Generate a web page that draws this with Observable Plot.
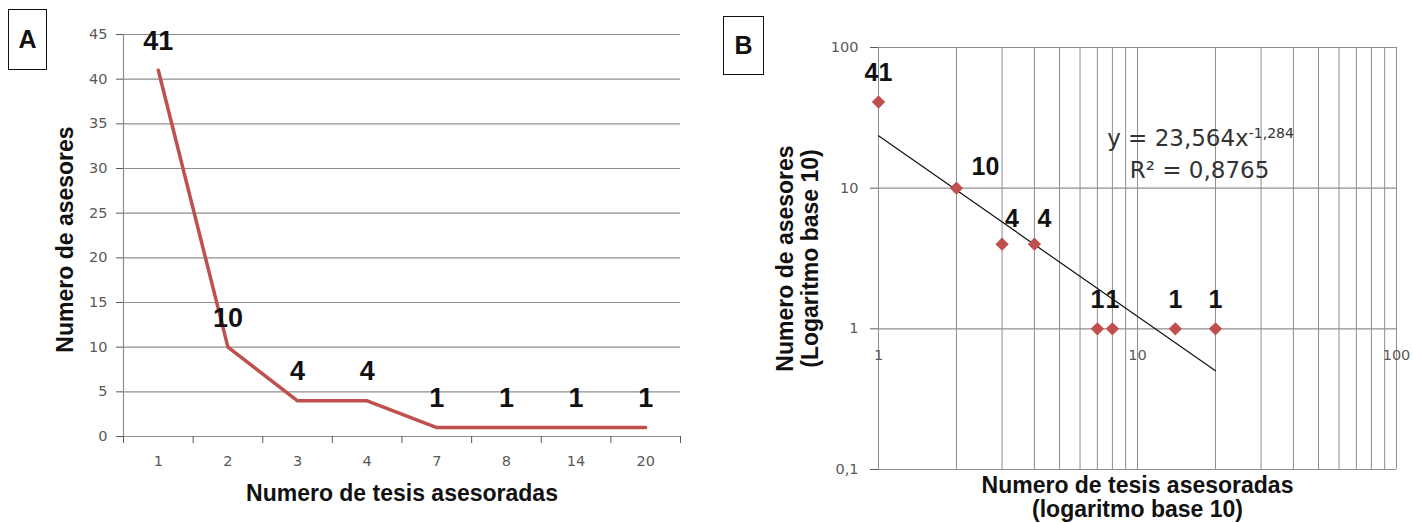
<!DOCTYPE html>
<html>
<head>
<meta charset="utf-8">
<script src="https://cdn.jsdelivr.net/npm/d3@7"></script>
<script src="https://cdn.jsdelivr.net/npm/@observablehq/plot@0.6"></script>
<style>
  html, body { margin: 0; padding: 0; background: #fff; }
  #wrap { position: relative; width: 1413px; height: 523px; overflow: hidden; background: #fff; }
  #wrap svg { position: absolute; top: 0; }
  .tag { position: absolute; border: 1.5px solid #111; box-sizing: border-box; background: #fff;
         font: bold 25px "Liberation Sans", Arial, sans-serif; color: #111;
         display: flex; align-items: center; justify-content: center; }
</style>
</head>
<body>
<div id="wrap">
  <div class="tag" style="left:8px;top:9px;width:39px;height:61px;">A</div>
  <div class="tag" style="left:723px;top:16px;width:41px;height:59px;">B</div>
</div>
<script>
// ---------- data ----------
const categorias = ["1", "2", "3", "4", "7", "8", "14", "20"];   // numero de tesis asesoradas
const tesis = [1, 2, 3, 4, 7, 8, 14, 20];
const asesores = [41, 10, 4, 4, 1, 1, 1, 1];

const yTicksA = [0, 5, 10, 15, 20, 25, 30, 35, 40, 45];
const yTicksB = [0.1, 1, 10, 100];
const xTicksB = [1, 10, 100];
const xGridB = [1, 2, 3, 4, 5, 6, 7, 8, 9, 10, 20, 30, 40, 50, 60, 70, 80, 90, 100];

const trendCoef = 23.564;
const trendExp = -1.284;
const trendRange = [1, 20];
const eqMain = "y = 23,564x";
const eqSup = "-1,284";
const eqR2 = "R² = 0,8765";

const yTitle = "Numero de asesores";
const xTitle = "Numero de tesis asesoradas";
const yTitleB = "Numero de asesores\n(Logaritmo base 10)";
const xTitleB = "Numero de tesis asesoradas\n(logaritmo base 10)";

// ---------- derived tables ----------
const dataA = categorias.map((c, i) => ({i, c, v: asesores[i]}));
const dataB = tesis.map((t, i) => ({t, v: asesores[i]}));
const trend = trendRange.map(x => ({x, y: trendCoef * Math.pow(x, trendExp)}));
const boundaries = d3.range(categorias.length + 1).map(i => i - 0.5);
const esFmt = d3.formatLocale({decimal: ",", thousands: ".", grouping: [3], currency: ["", ""]}).format("~g");

const RED = "#c0504d";
const GRID = "#8e8e8e";
const TICKC = "#595959";
const BOLD = "Liberation Sans, Arial, sans-serif";
const titleStyle = {fontSize: 23, fontWeight: "bold", fontFamily: BOLD, fill: "#111", textAnchor: "middle", lineAnchor: "middle"};

// ---------- panel A ----------
const chartA = Plot.plot({
  width: 700, height: 523,
  marginLeft: 123, marginRight: 20, marginTop: 34, marginBottom: 87,
  x: {type: "linear", domain: [-0.5, categorias.length - 0.5]},
  y: {domain: [0, 45]},
  style: {fontFamily: "DejaVu Sans, sans-serif", background: "transparent", overflow: "visible"},
  marks: [
    Plot.ruleY(yTicksA, {stroke: GRID, strokeWidth: 1.2}),
    Plot.frame({anchor: "left", stroke: GRID, strokeWidth: 1.2}),
    Plot.axisY({ticks: yTicksA, tickSize: 7, tickPadding: 9, fontSize: 14.5, color: TICKC, label: null}),
    Plot.axisX({ticks: boundaries, tickSize: 7, tickFormat: () => "", color: TICKC, label: null}),
    Plot.axisX({ticks: d3.range(categorias.length), tickSize: 0, tickPadding: 19,
                tickFormat: i => categorias[i], fontSize: 14.5, color: TICKC, label: null}),
    Plot.line(dataA, {x: "i", y: "v", stroke: RED, strokeWidth: 3.5}),
    Plot.text(dataA, {x: "i", y: "v", text: d => String(d.v), dy: -29,
                      fontSize: 27, fontWeight: "bold", fontFamily: BOLD, fill: "#111"}),
    Plot.text([yTitle], {...titleStyle, frameAnchor: "left", rotate: -90, dx: -58, dy: 4}),
    Plot.text([xTitle], {...titleStyle, frameAnchor: "bottom", dy: 57})
  ]
});
chartA.style.left = "0px";
document.getElementById("wrap").appendChild(chartA);

// ---------- panel B ----------
const labelStyle = {x: "t", y: "v", text: d => String(d.v), fontSize: 25, fontWeight: "bold", fontFamily: BOLD, fill: "#111"};
const eqStyle = {frameAnchor: "top-left", textAnchor: "middle", lineAnchor: "middle", fontSize: 23, fill: "#333", fontFamily: "DejaVu Sans, sans-serif"};
const chartB = Plot.plot({
  width: 713, height: 523,
  marginLeft: 178, marginRight: 17, marginTop: 47, marginBottom: 54,
  x: {type: "log", domain: [1, 100], axis: null},
  y: {type: "log", domain: [0.1, 100]},
  style: {fontFamily: "DejaVu Sans, sans-serif", background: "transparent", overflow: "visible"},
  marks: [
    Plot.ruleX(xGridB, {stroke: GRID, strokeWidth: 1}),
    Plot.ruleY(yTicksB, {stroke: GRID, strokeWidth: 1.2}),
    Plot.axisY({ticks: yTicksB, tickFormat: esFmt, tickSize: 8, tickPadding: 12, fontSize: 14.5, color: TICKC, label: null}),
    Plot.text(xTicksB, {x: d => d, y: () => 1, text: d => esFmt(d), dy: 27, fontSize: 14.5, fill: TICKC}),
    Plot.line(trend, {x: "x", y: "y", stroke: "#111", strokeWidth: 1.2}),
    Plot.dot(dataB, {x: "t", y: "v", symbol: "diamond2", r: 6, fill: RED, stroke: "none"}),
    Plot.text(dataB.filter(d => d.v !== 10 && d.v !== 4), {...labelStyle, dy: -29}),
    Plot.text(dataB.filter(d => d.v === 10), {...labelStyle, dx: 29, dy: -21}),
    Plot.text(dataB.filter(d => d.v === 4), {...labelStyle, dx: 10, dy: -25}),
    Plot.text([eqMain], {...eqStyle, dx: 322, dy: 91}),
    Plot.text([eqR2], {...eqStyle, dx: 321, dy: 123}),
    Plot.text([yTitleB], {...titleStyle, frameAnchor: "left", rotate: -90, dx: -81, dy: 0, lineHeight: 1.1}),
    Plot.text([xTitleB], {...titleStyle, frameAnchor: "bottom", dy: 28, lineHeight: 1.05})
  ]
});
chartB.style.left = "700px";
document.getElementById("wrap").appendChild(chartB);

// superscript exponent of the trend equation
d3.select(chartB).selectAll("text").filter(function() { return this.textContent === eqMain; })
  .append("tspan").attr("dy", "-0.55em").attr("font-size", 14).text(eqSup);
</script>
</body>
</html>
